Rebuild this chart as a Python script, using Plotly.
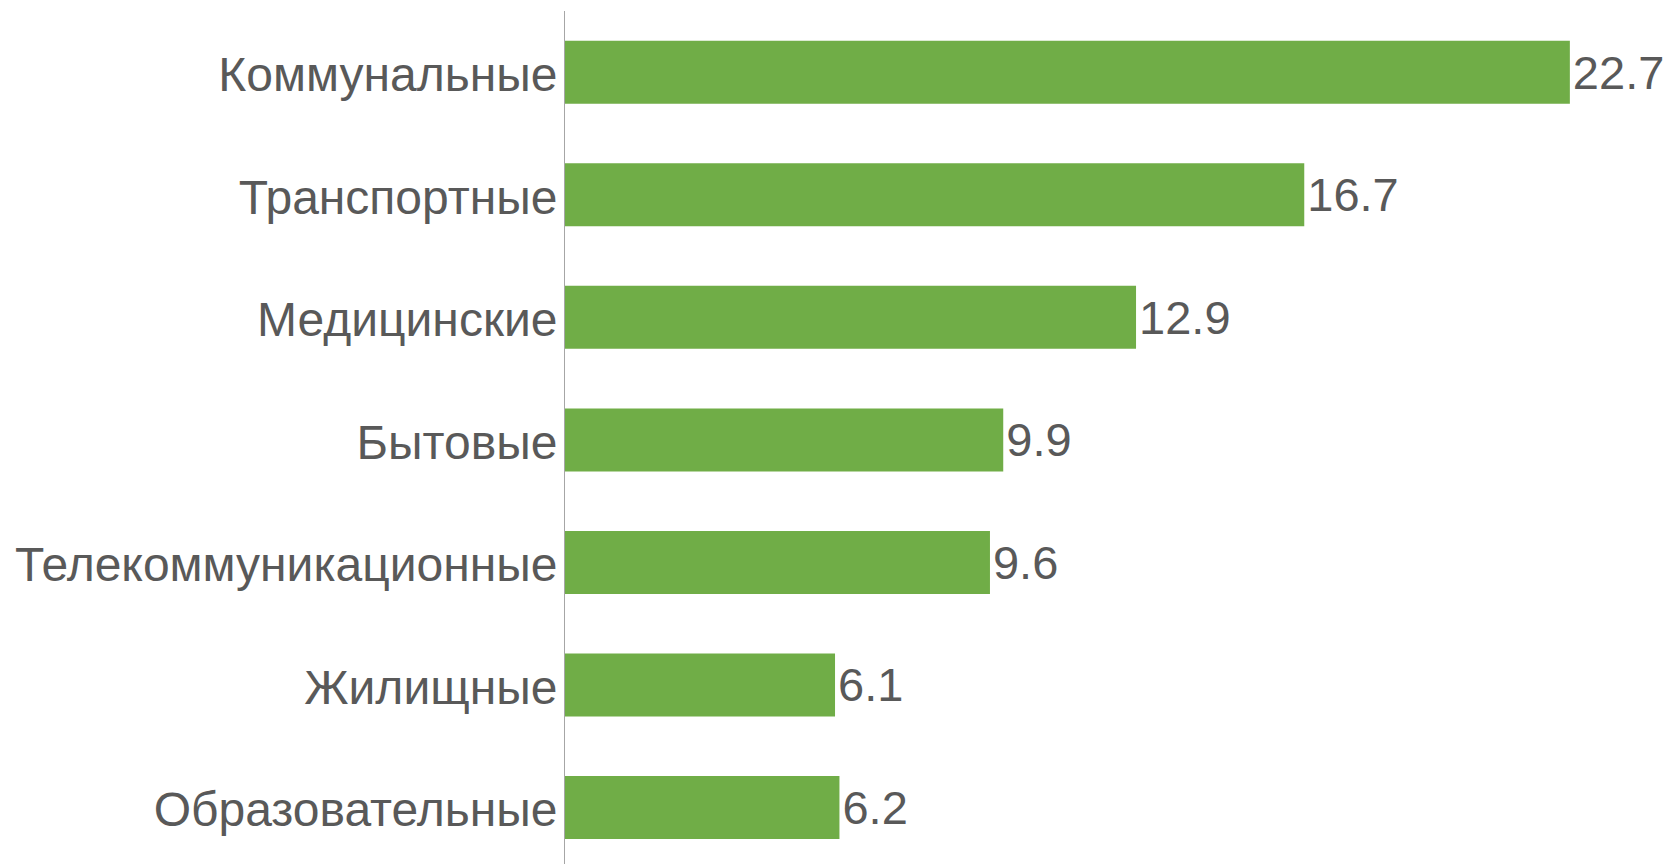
import plotly.graph_objects as go

categories = ["Коммунальные", "Транспортные", "Медицинские", "Бытовые",
              "Телекоммуникационные", "Жилищные", "Образовательные"]
values = [22.7, 16.7, 12.9, 9.9, 9.6, 6.1, 6.2]
value_labels = ["22.7", "16.7", "12.9", "9.9", "9.6", "6.1", "6.2"]

FONT = "Liberation Sans, Arial, sans-serif"
TXT = "#595959"

fig = go.Figure(go.Bar(
    x=values, y=categories, orientation="h",
    marker=dict(color="#70AD47", line=dict(width=0)),
    text=value_labels, textposition="outside",
    textfont=dict(family=FONT, size=47, color=TXT),
    cliponaxis=False,
))

fig.update_layout(
    width=1673, height=864,
    margin=dict(l=565, r=0, t=11, b=0),
    paper_bgcolor="white", plot_bgcolor="white",
    bargap=0.486,
    showlegend=False,
    font=dict(family=FONT, size=48, color=TXT),
    xaxis=dict(range=[0, 25.03], showgrid=False, zeroline=False,
               showticklabels=False, showline=False),
    yaxis=dict(categoryorder="array", categoryarray=categories,
               range=[6.461, -0.5], showgrid=False, zeroline=False,
               showline=True, linecolor="#A6A6A6", linewidth=1,
               ticks="", ticklabelstandoff=-3, ticklabelshift=-2,
               tickfont=dict(family=FONT, size=48, color=TXT)),
)

fig.write_html("out.html", config={"displayModeBar": False},
               post_script="document.body.style.margin='0';")
